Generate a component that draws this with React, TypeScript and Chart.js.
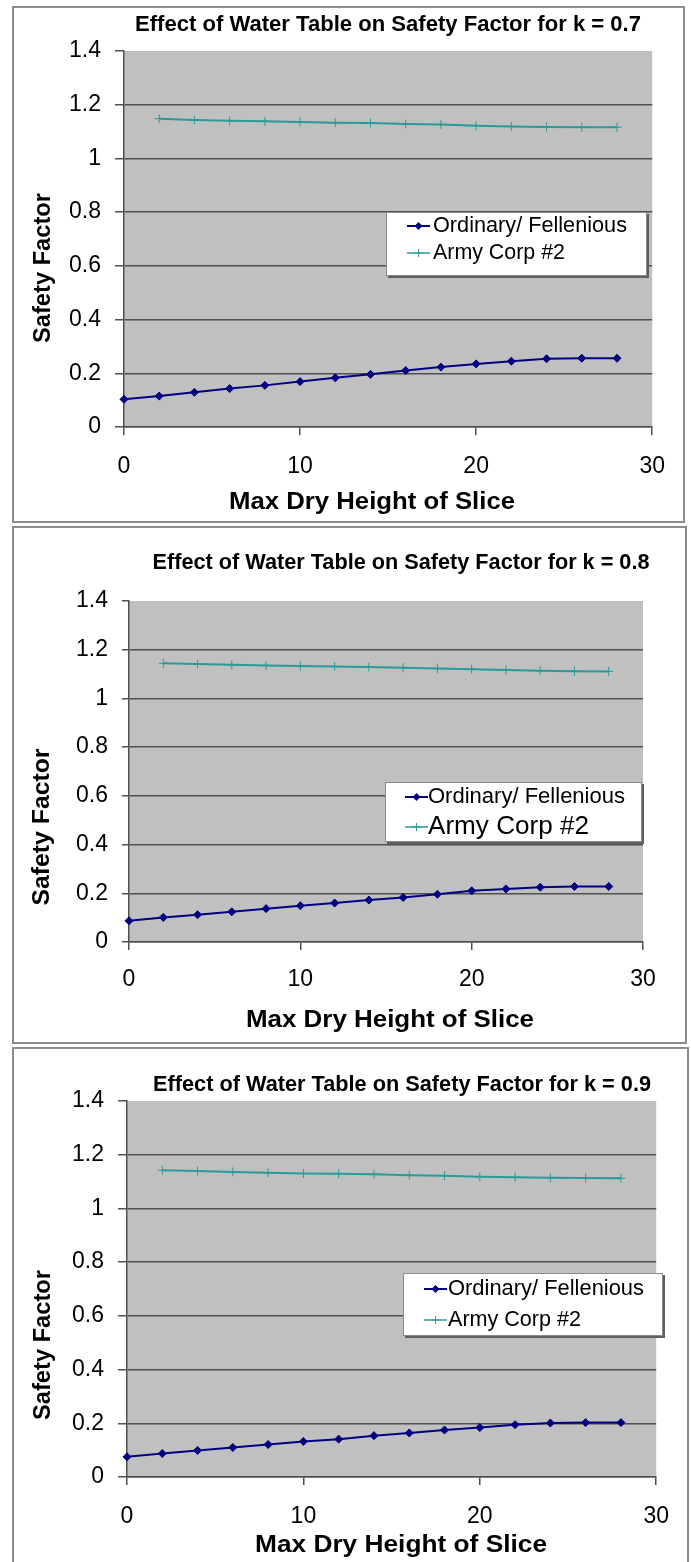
import React, { useEffect, useRef } from "react";
import { Chart, registerables } from "chart.js";

Chart.register(...registerables);

// ---- data -------------------------------------------------------------
const heights = [0, 2, 4, 6, 8, 10, 12, 14, 16, 18, 20, 22, 24, 26, 28];
const armyHeights = [2, 4, 6, 8, 10, 12, 14, 16, 18, 20, 22, 24, 26, 28];

const ordinaryK07 = [0.103, 0.115, 0.129, 0.143, 0.155, 0.169, 0.183, 0.196, 0.21, 0.223, 0.235, 0.245, 0.254, 0.256, 0.256];
const armyK07 = [1.148, 1.143, 1.14, 1.138, 1.136, 1.133, 1.132, 1.128, 1.126, 1.122, 1.119, 1.117, 1.116, 1.116];

const ordinaryK08 = [0.087, 0.101, 0.112, 0.124, 0.137, 0.149, 0.16, 0.172, 0.183, 0.196, 0.21, 0.218, 0.225, 0.228, 0.228];
const armyK08 = [1.144, 1.141, 1.138, 1.135, 1.133, 1.131, 1.129, 1.126, 1.123, 1.12, 1.117, 1.114, 1.112, 1.111];

const ordinaryK09 = [0.075, 0.0875, 0.099, 0.11, 0.121, 0.1325, 0.141, 0.154, 0.164, 0.175, 0.184, 0.195, 0.201, 0.2025, 0.2025];
const armyK09 = [1.142, 1.139, 1.136, 1.133, 1.13, 1.129, 1.127, 1.124, 1.122, 1.118, 1.116, 1.114, 1.113, 1.112];

const yTickValues = [0, 0.2, 0.4, 0.6, 0.8, 1, 1.2, 1.4];
const yTickLabels = ["0", "0.2", "0.4", "0.6", "0.8", "1", "1.2", "1.4"];
const xTickValues = [0, 10, 20, 30];
const xTickLabels = ["0", "10", "20", "30"];

const seriesNames = ["Ordinary/ Fellenious", "Army Corp #2"];
const chartTitles = [
  "Effect of Water Table on Safety Factor for k = 0.7",
  "Effect of Water Table on Safety Factor for k = 0.8",
  "Effect of Water Table on Safety Factor for k = 0.9",
];
const xAxisTitle = "Max Dry Height of Slice";
const yAxisTitle = "Safety Factor";

// ---- styling ----------------------------------------------------------
const NAVY = "#000080";
const TEAL = "#2a9a9a";
const PLOT_BG = "#c0c0c0";
const GRID = "#505050";
const FONT = "'Liberation Sans', Arial, sans-serif";
const Y_AXIS_W = 80;
const X_AXIS_H = 60;

type Layout = {
  box: { left: number; top: number; width: number; height: number };
  area: { left: number; right: number; top: number; bottom: number };
  yTick: { len: number; pad: number };
  xTickPad: number;
  title: { x: number; y: number; w: number };
  yTitle: { x: number; y: number; w: number };
  xTitle: { x: number; y: number; w: number };
  legend: {
    x: number; y: number; w: number; h: number;
    line: [number, number]; textX: number;
    rows: [number, number]; sizes: [number, number]; widths: [number, number];
  };
};

const BORDER = 2;

const layouts: Layout[] = [
  {
    box: { left: 12, top: 6, width: 673, height: 517 },
    area: { left: 110, right: 648, top: 43, bottom: 419 },
    yTick: { len: 9, pad: 14 },
    xTickPad: 18,
    title: { x: 374, y: 17, w: 506 },
    yTitle: { x: 29, y: 260, w: 150 },
    xTitle: { x: 358, y: 494, w: 286 },
    legend: { x: 372, y: 204, w: 261, h: 64, line: [393, 416], textX: 419, rows: [218, 245], sizes: [21.5, 21.5], widths: [194, 132] },
  },
  {
    box: { left: 12, top: 526, width: 675, height: 518 },
    area: { left: 115, right: 629, top: 73, bottom: 414 },
    yTick: { len: 7, pad: 14 },
    xTickPad: 16,
    title: { x: 387, y: 35, w: 497 },
    yTitle: { x: 28, y: 299, w: 157 },
    xTitle: { x: 376, y: 492, w: 288 },
    legend: { x: 371, y: 254, w: 257, h: 60, line: [391, 414], textX: 414, rows: [269, 299], sizes: [21.5, 26], widths: [197, 161] },
  },
  {
    box: { left: 12, top: 1047, width: 677, height: 530 },
    area: { left: 113, right: 650, top: 52, bottom: 428 },
    yTick: { len: 9, pad: 14 },
    xTickPad: 18,
    title: { x: 388, y: 36, w: 498 },
    yTitle: { x: 29, y: 296, w: 150 },
    xTitle: { x: 387, y: 496, w: 292 },
    legend: { x: 389, y: 224, w: 260, h: 63, line: [410, 433], textX: 434, rows: [240, 271], sizes: [21.5, 21.5], widths: [196, 133] },
  },
];

// Draws text scaled horizontally to a given width.
function fitText(
  ctx: CanvasRenderingContext2D,
  text: string,
  x: number,
  y: number,
  font: string,
  width: number,
  align: CanvasTextAlign,
  rotate = false
) {
  ctx.save();
  ctx.font = font;
  ctx.fillStyle = "#000";
  ctx.textBaseline = "middle";
  ctx.textAlign = align;
  const natural = ctx.measureText(text).width || 1;
  ctx.translate(x, y);
  if (rotate) ctx.rotate(-Math.PI / 2);
  ctx.scale(width / natural, 1);
  ctx.fillText(text, 0, 0);
  ctx.restore();
}

function drawDiamond(ctx: CanvasRenderingContext2D, x: number, y: number, r: number) {
  ctx.beginPath();
  ctx.moveTo(x, y - r);
  ctx.lineTo(x + r, y);
  ctx.lineTo(x, y + r);
  ctx.lineTo(x - r, y);
  ctx.closePath();
  ctx.fillStyle = NAVY;
  ctx.fill();
}

function drawCross(ctx: CanvasRenderingContext2D, x: number, y: number, r: number) {
  ctx.beginPath();
  ctx.moveTo(x - r, y);
  ctx.lineTo(x + r, y);
  ctx.moveTo(x, y - r);
  ctx.lineTo(x, y + r);
  ctx.strokeStyle = TEAL;
  ctx.lineWidth = 1;
  ctx.stroke();
}

function decorPlugin(layout: Layout, title: string) {
  return {
    id: "panelDecor",
    beforeDraw(chart: Chart) {
      const { ctx, chartArea } = chart;
      ctx.save();
      ctx.fillStyle = PLOT_BG;
      ctx.fillRect(chartArea.left, chartArea.top, chartArea.right - chartArea.left, chartArea.bottom - chartArea.top);
      ctx.restore();
    },
    afterDraw(chart: Chart) {
      const ctx = chart.ctx;
      fitText(ctx, title, layout.title.x, layout.title.y, `bold 22px ${FONT}`, layout.title.w, "center");
      fitText(ctx, yAxisTitle, layout.yTitle.x, layout.yTitle.y, `bold 24px ${FONT}`, layout.yTitle.w, "center", true);
      fitText(ctx, xAxisTitle, layout.xTitle.x, layout.xTitle.y, `bold 24px ${FONT}`, layout.xTitle.w, "center");

      const lg = layout.legend;
      ctx.save();
      ctx.fillStyle = "#606060";
      ctx.fillRect(lg.x + 2, lg.y + 2, lg.w, lg.h);
      ctx.fillStyle = "#ffffff";
      ctx.fillRect(lg.x, lg.y, lg.w, lg.h);
      ctx.strokeStyle = "#8a8a8a";
      ctx.lineWidth = 1;
      ctx.strokeRect(lg.x + 0.5, lg.y + 0.5, lg.w - 1, lg.h - 1);

      const [x1, x2] = lg.line;
      const mid = (x1 + x2) / 2;
      // Ordinary / Fellenious sample
      ctx.beginPath();
      ctx.moveTo(x1, lg.rows[0]);
      ctx.lineTo(x2, lg.rows[0]);
      ctx.strokeStyle = NAVY;
      ctx.lineWidth = 2;
      ctx.stroke();
      drawDiamond(ctx, mid, lg.rows[0], 4);
      // Army Corp #2 sample
      ctx.beginPath();
      ctx.moveTo(x1, lg.rows[1]);
      ctx.lineTo(x2, lg.rows[1]);
      ctx.strokeStyle = TEAL;
      ctx.lineWidth = 1.5;
      ctx.stroke();
      drawCross(ctx, mid, lg.rows[1], 4);
      ctx.restore();

      seriesNames.forEach((name, i) => {
        fitText(ctx, name, lg.textX, lg.rows[i], `${lg.sizes[i]}px ${FONT}`, lg.widths[i], "left");
      });
    },
  };
}

type PanelProps = { layout: Layout; title: string; ordinary: number[]; army: number[] };

function Panel({ layout, title, ordinary, army }: PanelProps) {
  const canvasRef = useRef<HTMLCanvasElement | null>(null);
  const innerW = layout.box.width - 2 * BORDER;
  const innerH = layout.box.height - 2 * BORDER;

  useEffect(() => {
    const canvas = canvasRef.current;
    if (!canvas) return;
    const a = layout.area;
    const tickFont = { family: FONT, size: 23 };

    const chart = new Chart(canvas, {
      type: "line",
      data: {
        datasets: [
          {
            label: seriesNames[0],
            data: heights.map((x, i) => ({ x, y: ordinary[i] })),
            borderColor: NAVY,
            backgroundColor: NAVY,
            borderWidth: 2,
            pointStyle: "rectRot",
            pointRadius: 4,
            pointBorderWidth: 1,
            pointBackgroundColor: NAVY,
            pointBorderColor: NAVY,
            tension: 0,
            clip: false,
          },
          {
            label: seriesNames[1],
            data: armyHeights.map((x, i) => ({ x, y: army[i] })),
            borderColor: TEAL,
            backgroundColor: TEAL,
            borderWidth: 2,
            pointStyle: "cross",
            pointRadius: 4.5,
            pointBorderWidth: 1,
            pointBorderColor: TEAL,
            tension: 0,
            clip: false,
          },
        ],
      },
      options: {
        responsive: false,
        animation: false,
        devicePixelRatio: 1,
        events: [],
        layout: {
          padding: {
            left: a.left - Y_AXIS_W,
            top: a.top,
            right: innerW - a.right,
            bottom: innerH - a.bottom - X_AXIS_H,
          },
        },
        plugins: {
          legend: { display: false },
          tooltip: { enabled: false },
          title: { display: false },
        },
        scales: {
          x: {
            type: "linear",
            min: 0,
            max: 30,
            afterBuildTicks: (s: any) => {
              s.ticks = xTickValues.map((v) => ({ value: v }));
            },
            afterFit: (s: any) => {
              s.height = X_AXIS_H;
            },
            grid: {
              display: true,
              drawOnChartArea: false,
              drawTicks: true,
              tickLength: 8,
              color: GRID,
              tickColor: GRID,
              lineWidth: 1.5,
            },
            border: { display: true, color: GRID, width: 1.5 },
            ticks: {
              font: tickFont,
              color: "#000",
              padding: layout.xTickPad,
              maxRotation: 0,
              autoSkip: false,
              callback: (v: number) => xTickLabels[xTickValues.indexOf(v)] ?? String(v),
            },
          },
          y: {
            type: "linear",
            min: 0,
            max: 1.4,
            afterBuildTicks: (s: any) => {
              s.ticks = yTickValues.map((v) => ({ value: v }));
            },
            afterFit: (s: any) => {
              s.width = Y_AXIS_W;
            },
            grid: {
              display: true,
              drawTicks: true,
              tickLength: layout.yTick.len,
              color: (c: any) => (c.tick && c.tick.value === 1.4 ? "rgba(0,0,0,0)" : GRID),
              tickColor: GRID,
              lineWidth: 1.5,
            },
            border: { display: true, color: GRID, width: 1.5 },
            ticks: {
              font: tickFont,
              color: "#000",
              padding: layout.yTick.pad,
              autoSkip: false,
              callback: (v: number) => yTickLabels[yTickValues.indexOf(v)] ?? String(v),
            },
          },
        },
      },
      plugins: [decorPlugin(layout, title)],
    } as any);

    return () => chart.destroy();
  }, [layout, title, ordinary, army, innerW, innerH]);

  return (
    <div
      style={{
        position: "absolute",
        left: layout.box.left,
        top: layout.box.top,
        width: layout.box.width,
        height: layout.box.height,
        boxSizing: "border-box",
        border: `${BORDER}px solid #8c8c8c`,
        background: "#fff",
      }}
    >
      <canvas
        ref={canvasRef}
        width={innerW}
        height={innerH}
        style={{ position: "absolute", left: 0, top: 0, width: innerW, height: innerH, display: "block" }}
      />
    </div>
  );
}

export default function App() {
  return (
    <div
      style={{
        position: "absolute",
        left: 0,
        top: 0,
        width: 691,
        height: 1562,
        overflow: "hidden",
        background: "#fff",
      }}
    >
      <Panel layout={layouts[0]} title={chartTitles[0]} ordinary={ordinaryK07} army={armyK07} />
      <Panel layout={layouts[1]} title={chartTitles[1]} ordinary={ordinaryK08} army={armyK08} />
      <Panel layout={layouts[2]} title={chartTitles[2]} ordinary={ordinaryK09} army={armyK09} />
    </div>
  );
}
